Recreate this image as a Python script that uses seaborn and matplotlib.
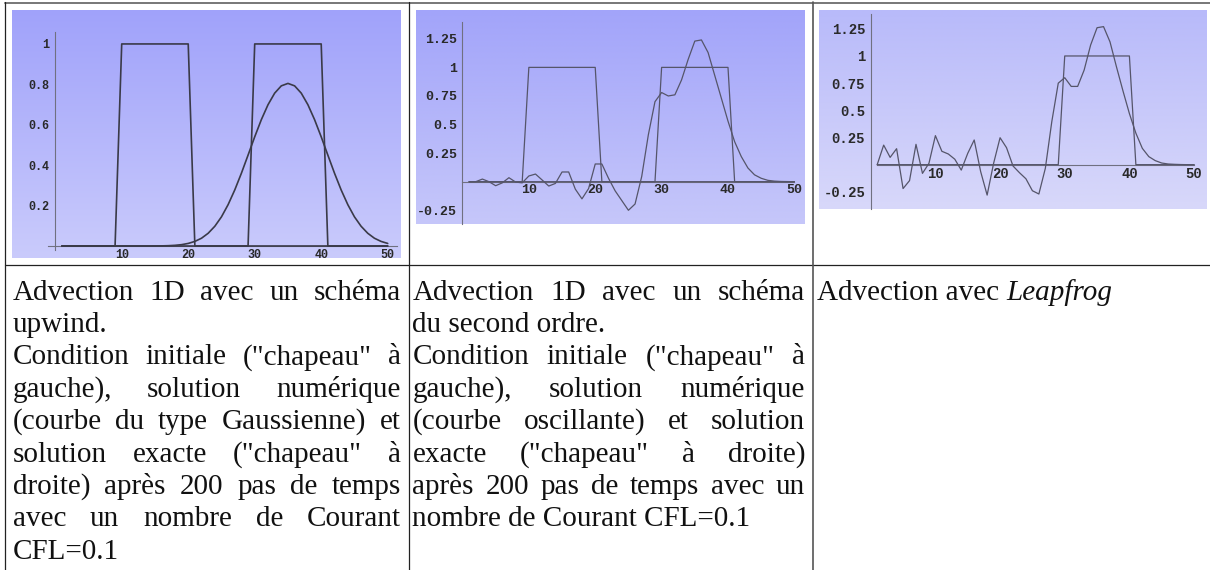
import numpy as np
import pandas as pd
import matplotlib
matplotlib.use("Agg")
import matplotlib.pyplot as plt
from matplotlib.lines import Line2D
import seaborn as sns

sns.set_theme(style="white")
plt.rcParams["font.family"] = ["Liberation Serif", "DejaVu Serif"]

W, H = 1210, 570

# grid points of the 1D domain
x_grid = list(range(1, 51))

# initial condition (hat on the left) and exact solution (hat on the right)
hat_initial = [0] * 9 + [1] * 11 + [0] * 30
hat_exact = [0] * 29 + [1] * 11 + [0] * 10

# upwind scheme after 200 steps, CFL = 0.1
upwind = [0, 0, 0, 0, 0, 0, 0, 0, 0, 0,
          0, 0, 0, 0, 0.0002, 0.0006, 0.0015, 0.0033, 0.0066, 0.0127,
          0.0227, 0.0385, 0.063, 0.0976, 0.1443, 0.2047, 0.2774, 0.3603, 0.4498, 0.5403,
          0.6255, 0.6992, 0.7565, 0.7926, 0.8047, 0.7926, 0.7565, 0.6992, 0.6255, 0.5403,
          0.4498, 0.3603, 0.2774, 0.2047, 0.1443, 0.0976, 0.063, 0.0385, 0.0227, 0.0127]

# second-order scheme after 200 steps, CFL = 0.1
second_order = [0.0, 0.0, 0.023, 0.0, -0.035, -0.01, 0.035, -0.003, -0.01, 0.05,
                0.067, 0.015, -0.038, -0.015, 0.085, 0.085, -0.065, -0.15, -0.06, 0.155,
                0.155, 0.03, -0.08, -0.165, -0.25, -0.195, 0.045, 0.41, 0.70, 0.78,
                0.75, 0.76, 0.89, 1.07, 1.23, 1.24, 1.13, 0.93, 0.73, 0.53,
                0.35, 0.22, 0.12, 0.06, 0.03, 0.012, 0.005, 0.002, 0.001, 0.0]

# leapfrog scheme
leapfrog = [0.0, 0.18, 0.067, 0.147, -0.22, -0.147, 0.187, -0.08, 0.012, 0.267,
            0.123, 0.098, 0.05, -0.05, 0.104, 0.227, -0.064, -0.28, 0.012, 0.248,
            0.156, -0.012, -0.074, -0.13, -0.24, -0.27, -0.034, 0.396, 0.75, 0.80,
            0.72, 0.72, 0.87, 1.10, 1.26, 1.27, 1.13, 0.90, 0.68, 0.47,
            0.29, 0.15, 0.074, 0.037, 0.015, 0.006, 0.003, 0.001, 0.0, 0.0]

x_ticks = [10, 20, 30, 40, 50]
x_labels = ["10", "20", "30", "40", "50"]
y_ticks_upwind = [0.2, 0.4, 0.6, 0.8, 1.0]
y_labels_upwind = ["0.2", "0.4", "0.6", "0.8", "1"]
y_ticks_osc = [-0.25, 0.25, 0.5, 0.75, 1.0, 1.25]
y_labels_osc = ["-0.25", "0.25", "0.5", "0.75", "1", "1.25"]

caption_upwind = [
    ("Advection 1D avec un schéma", True),
    ("upwind.", False),
    ("Condition initiale (\"chapeau\" à", True),
    ("gauche), solution numérique", True),
    ("(courbe du type Gaussienne) et", True),
    ("solution exacte (\"chapeau\" à", True),
    ("droite) après 200 pas de temps", True),
    ("avec un nombre de Courant", True),
    ("CFL=0.1", False),
]
caption_second = [
    ("Advection 1D avec un schéma", True),
    ("du second ordre.", False),
    ("Condition initiale (\"chapeau\" à", True),
    ("gauche), solution numérique", True),
    ("(courbe oscillante) et solution", True),
    ("exacte (\"chapeau\" à droite)", True),
    ("après 200 pas de temps avec un", True),
    ("nombre de Courant CFL=0.1", False),
]
caption_leapfrog_plain = "Advection avec"
caption_leapfrog_italic = "Leapfrog"

fig = plt.figure(figsize=(W / 100, H / 100), dpi=100)
fig.patch.set_facecolor("white")


def px_rect(x0, y0, x1, y1):
    return [x0 / W, 1 - y1 / H, (x1 - x0) / W, (y1 - y0) / H]


def mathematica_panel(rect, xlim, ylim, top_rgb, bot_rgb, xb, yb,
                      yticks, ylabels, fs, curves, lw, lc):
    ax = fig.add_axes(px_rect(*rect))
    grad = np.linspace(0, 1, 256)[:, None, None]
    top = np.array(top_rgb)[None, None, :] / 255
    bot = np.array(bot_rgb)[None, None, :] / 255
    img = top * (1 - grad) + bot * grad
    ax.imshow(img, extent=[xlim[0], xlim[1], ylim[0], ylim[1]],
              aspect="auto", origin="upper", zorder=0, interpolation="bilinear")
    for ys in curves:
        df = pd.DataFrame({"x": x_grid, "y": ys})
        sns.lineplot(data=df, x="x", y="y", ax=ax, color=lc, linewidth=lw,
                     estimator=None, sort=False, zorder=3)
    ax.set_xlim(*xlim)
    ax.set_ylim(*ylim)
    ax.set_xlabel("")
    ax.set_ylabel("")
    for s in ("top", "right"):
        ax.spines[s].set_visible(False)
    ax.spines["left"].set_position(("data", 0))
    ax.spines["bottom"].set_position(("data", 0))
    ax.spines["left"].set_bounds(*yb)
    ax.spines["bottom"].set_bounds(*xb)
    for s in ("left", "bottom"):
        ax.spines[s].set_color("#707080")
        ax.spines[s].set_linewidth(0.8)
        ax.spines[s].set_zorder(2)
    ax.set_xticks(x_ticks)
    ax.set_xticklabels(x_labels)
    ax.set_xticks([v for v in range(2, 51, 2) if v % 10], minor=True)
    ax.set_yticks(yticks)
    ax.set_yticklabels(ylabels)
    ymin_t = np.ceil(yb[0] / 0.05) * 0.05
    minors = [v for v in np.arange(ymin_t, yb[1], 0.05)
              if all(abs(v - t) > 1e-6 for t in yticks) and abs(v) > 1e-6]
    ax.set_yticks(minors, minor=True)
    ax.tick_params(which="major", direction="in", length=3.5, width=0.7,
                   color="#707080", labelsize=fs, labelcolor="#2a2a2a", pad=2)
    ax.tick_params(which="minor", direction="in", length=1.8, width=0.5,
                   color="#707080")
    ax.tick_params(axis="y", which="major", pad=4)
    for lab in ax.get_xticklabels() + ax.get_yticklabels():
        lab.set_family(["Liberation Mono", "DejaVu Sans Mono"])
        lab.set_weight("bold")
    ax.grid(False)
    return ax


mathematica_panel((12, 10, 401, 258), (-6.5, 52.0), (-0.0594, 1.168),
                  (160, 162, 250), (202, 203, 252), (-1.1, 51.4), (-0.02, 1.06),
                  y_ticks_upwind, y_labels_upwind, 8.5,
                  [hat_initial, hat_exact, upwind], 1.2, "#3a3a48")

mathematica_panel((416, 10, 805, 224), (-7.0, 51.6), (-0.370, 1.502),
                  (162, 164, 250), (198, 199, 250), (0.0, 50.0), (-0.37, 1.40),
                  y_ticks_osc, y_labels_osc, 9.5,
                  [hat_initial, hat_exact, second_order], 0.9, "#55556a")

mathematica_panel((819, 10, 1207, 209), (-8.0, 52.0), (-0.408, 1.423),
                  (184, 186, 250), (216, 216, 250), (1.0, 50.0), (-0.41, 1.39),
                  y_ticks_osc, y_labels_osc, 10,
                  [hat_exact, leapfrog], 0.9, "#55556a")

# ---- table frame ----
def hline(y, x0, x1, color, lw):
    fig.add_artist(Line2D([x0 / W, x1 / W], [1 - y / H, 1 - y / H],
                          color=color, linewidth=lw, transform=fig.transFigure))


def vline(x, y0, y1, color, lw):
    fig.add_artist(Line2D([x / W, x / W], [1 - y0 / H, 1 - y1 / H],
                          color=color, linewidth=lw, transform=fig.transFigure))


hline(2.5, 4.5, W, "#777777", 1.4)
hline(264.5, 4.5, W, "#222222", 0.9)
vline(4.8, 2, H, "#222222", 0.9)
vline(408.5, 2, H, "#222222", 0.9)
vline(812.5, 2, H, "#555555", 1.2)

# ---- captions ----
FS = 21
renderer = fig.canvas.get_renderer()


def text_width(s, **kw):
    t = fig.text(0, 0, s, fontsize=FS, **kw)
    w = t.get_window_extent(renderer).width
    t.remove()
    return w


def paragraph(lines, x0, x1, base_y, lh):
    for i, (line, justify) in enumerate(lines):
        y = 1 - (base_y + i * lh) / H
        if justify:
            words = line.split()
            widths = [text_width(w) for w in words]
            gap = (x1 - x0 - sum(widths)) / (len(words) - 1)
            x = x0
            for w, wd in zip(words, widths):
                fig.text(x / W, y, w, fontsize=FS, va="baseline", ha="left",
                         color="#111111")
                x += wd + gap
        else:
            fig.text(x0 / W, y, line, fontsize=FS, va="baseline", ha="left",
                     color="#111111")


BASE = 299.5
LH = 32.4
paragraph(caption_upwind, 12.5, 401, BASE, LH)
paragraph(caption_second, 412.5, 805, BASE, LH)

space_w = text_width("a a") - text_width("aa")
plain_w = text_width(caption_leapfrog_plain)
fig.text(816.5 / W, 1 - BASE / H, caption_leapfrog_plain, fontsize=FS,
         va="baseline", ha="left", color="#111111")
fig.text((816.5 + plain_w + space_w) / W, 1 - BASE / H, caption_leapfrog_italic,
         fontsize=FS, va="baseline", ha="left", style="italic", color="#111111")

fig.savefig("out.png", dpi=100)
